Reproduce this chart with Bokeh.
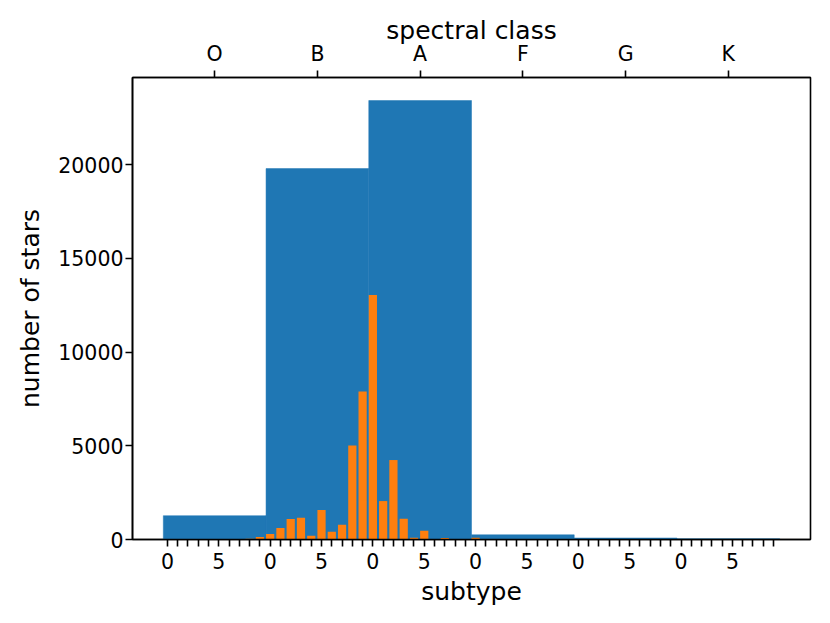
from bokeh.plotting import figure
from bokeh.models import LinearAxis, FixedTicker, Range1d
from bokeh.embed import file_html
from bokeh.resources import INLINE

# Data
classes = ["O", "B", "A", "F", "G", "K"]
class_counts = [1270, 19790, 23420, 250, 80, 40]

subtype_counts = (
    [0, 0, 0, 0, 0, 0, 0, 20, 40, 140] +             # O0-O9
    [300, 610, 1100, 1160, 200, 1570, 410, 785, 5010, 7900] +  # B0-B9
    [13050, 2050, 4240, 1105, 90, 465, 0, 80, 0, 0] +  # A0-A9
    [90, 0, 0, 0, 0, 0, 0, 0, 0, 0] +                  # F0-F9
    [0] * 10 +                                         # G0-G9
    [0] * 10                                           # K0-K9
)
subtype_labels = [str(i % 10) if i % 5 == 0 else "" for i in range(len(subtype_counts))]

BLUE = "#1f77b4"
ORANGE = "#ff7f0e"
FONT = "DejaVu Sans"

n_sub = len(subtype_counts)
sub_x = list(range(n_sub))
class_x = [10 * k + 4.6 for k in range(len(classes))]

p = figure(width=830, height=623, output_backend="svg", toolbar_location=None,
           x_range=Range1d(-3.4, 62.6), y_range=Range1d(0, 24650),
           min_border_left=132, min_border_right=20, min_border_top=77, min_border_bottom=84)
p.background_fill_color = "white"
p.border_fill_color = "white"
p.outline_line_color = "black"
p.outline_line_width = 1.6
p.xgrid.visible = False
p.ygrid.visible = False

p.vbar(x=class_x, top=class_counts, width=10, bottom=0, fill_color=BLUE,
       line_color=BLUE, line_width=0.5)
p.vbar(x=sub_x, top=subtype_counts, width=0.8, bottom=0, fill_color=ORANGE, line_color=None)

def style(ax):
    ax.major_label_text_font = FONT
    ax.major_label_text_font_size = "20.5px"
    ax.major_label_text_color = "black"
    ax.axis_label_text_font = FONT
    ax.axis_label_text_font_size = "25px"
    ax.axis_label_text_font_style = "normal"
    ax.axis_label_text_color = "black"
    ax.axis_line_color = "black"
    ax.axis_line_width = 1.6
    ax.major_tick_line_color = "black"
    ax.major_tick_line_width = 1.6
    ax.major_tick_out = 7
    ax.major_tick_in = 0
    ax.minor_tick_line_color = None

xa = p.xaxis[0]
style(xa)
xa.ticker = FixedTicker(ticks=sub_x)
xa.major_label_overrides = {i: subtype_labels[i] for i in sub_x}
xa.axis_label = "subtype"
xa.major_label_standoff = 6
xa.axis_label_standoff = 5

ya = p.yaxis[0]
style(ya)
ya.ticker = FixedTicker(ticks=[0, 5000, 10000, 15000, 20000])
ya.axis_label = "number of stars"
ya.major_label_standoff = 2
ya.axis_label_standoff = 10

top = LinearAxis(ticker=FixedTicker(ticks=class_x),
                 major_label_overrides={class_x[k]: classes[k] for k in range(len(classes))},
                 axis_label="spectral class")
style(top)
top.major_label_standoff = 5
top.axis_label_standoff = -6
p.add_layout(top, "above")

open("out.html", "w").write(file_html(p, INLINE))
